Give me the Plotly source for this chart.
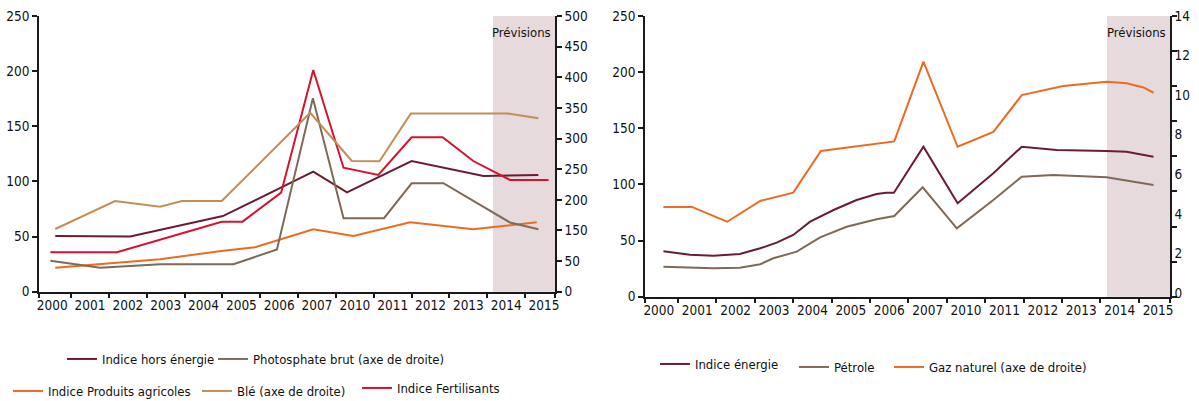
import plotly.graph_objects as go

# ---------------- data ----------------
years = ["2000", "2001", "2002", "2003", "2004", "2005", "2006", "2007",
         "2010", "2011", "2012", "2013", "2014", "2015"]

# Left chart (x in category units: 0 = "2000", 13 = "2015")
x_hors_energie = [0.08, 2.06, 4.51, 6.90, 7.79, 9.50, 11.40, 12.85]
v_hors_energie = [50.5, 50.0, 68.6, 108.8, 90.0, 118.5, 105.0, 105.8]

x_phosphate = [-0.05, 1.27, 2.85, 4.79, 5.94, 6.89, 7.70, 8.77, 9.50, 10.34, 12.10, 12.85]
v_phosphate = [100.6, 89.0, 94.7, 94.7, 119.0, 365.6, 169.8, 170.0, 226.9, 227.0, 163.0, 151.8]

x_agricoles = [0.08, 2.85, 4.52, 5.36, 6.90, 7.96, 9.46, 11.13, 12.81]
v_agricoles = [21.8, 29.4, 37.2, 40.3, 56.6, 50.5, 62.9, 56.6, 62.9]

x_ble = [0.08, 1.66, 2.85, 3.43, 4.48, 6.82, 7.92, 8.65, 9.48, 12.02, 12.85]
v_ble = [152.3, 198.0, 188.7, 198.0, 198.0, 342.0, 263.3, 263.0, 341.0, 341.0, 333.0]

x_fertilisants = [-0.05, 1.71, 4.48, 5.03, 6.05, 6.90, 7.70, 8.62, 9.50, 10.32, 11.13, 12.10, 13.12]
v_fertilisants = [35.7, 35.7, 63.5, 63.5, 89.8, 201.0, 112.4, 105.8, 140.0, 140.0, 118.5, 101.3, 101.3]

# Right chart
x_gaz = [0.12, 0.86, 1.78, 2.65, 3.50, 4.22, 6.13, 6.89, 7.78, 8.71, 9.45, 10.53, 11.66, 12.18, 12.62, 12.88]
v_gaz = [4.35, 4.35, 3.60, 4.66, 5.07, 7.18, 7.66, 11.69, 7.39, 8.14, 10.0, 10.46, 10.68, 10.60, 10.39, 10.12]

x_energie = [0.12, 0.81, 1.42, 2.11, 2.64, 3.07, 3.50, 3.94, 4.55, 5.15, 5.67, 5.92, 6.12,
             6.89, 7.78, 8.71, 9.45, 10.36, 11.66, 12.18, 12.88]
v_energie = [40.4, 37.4, 36.5, 38.0, 43.1, 48.1, 55.0, 66.8, 77.2, 86.1, 91.5, 92.6, 92.6,
             133.6, 83.2, 109.9, 133.6, 130.6, 129.8, 129.1, 124.7]

x_petrole = [0.12, 1.42, 2.11, 2.64, 2.98, 3.59, 4.20, 4.89, 5.67, 6.13, 6.87, 7.76, 8.71,
             9.45, 10.27, 11.66, 12.88]
v_petrole = [26.7, 25.3, 25.8, 28.9, 34.2, 40.1, 52.9, 62.3, 68.9, 71.9, 97.4, 60.9, 86.1,
             106.9, 108.4, 106.3, 99.5]

forecast_start_left = 11.65
forecast_start_right = 11.67

left_y_ticks = [0, 50, 100, 150, 200, 250]
left_y2_tickvals = [50, 100, 150, 200, 250, 300, 350, 400, 450, 500]
left_y2_ticktext = ["0", "50", "150", "200", "250", "300", "350", "400", "450", "500"]
right_y_ticks = [0, 50, 100, 150, 200, 250]
right_y2_ticks = [0, 2, 4, 6, 8, 10, 12, 14]

# ---------------- style ----------------
FONT = "Liberation Sans Narrow, DejaVu Sans Condensed, Arial Narrow, sans-serif"
MAROON = "#6B1C33"
GREYBROWN = "#7E6A57"
ORANGE = "#EE6A22"
TAN = "#C38D55"
RED = "#D7122E"
SHADE = "#E6DADD"
AXIS = "#1A1A1A"
TXT = "#111111"
W, H = 1199, 401
TICK_SIZE = 13.5
LEG_SIZE = 13

fig = go.Figure()

def add(x, y, name, color, xa, ya, legend):
    fig.add_trace(go.Scatter(x=x, y=y, name=name, mode="lines",
                             line=dict(color=color, width=2),
                             xaxis=xa, yaxis=ya, legend=legend, showlegend=True))

add(x_hors_energie, v_hors_energie, "Indice hors énergie", MAROON, "x", "y", "legend")
add(x_phosphate, v_phosphate, "Photosphate brut (axe de droite)", GREYBROWN, "x", "y2", "legend2")
add(x_agricoles, v_agricoles, "Indice Produits agricoles", ORANGE, "x", "y", "legend3")
add(x_ble, v_ble, "Blé (axe de droite)", TAN, "x", "y2", "legend4")
add(x_fertilisants, v_fertilisants, "Indice Fertilisants", RED, "x", "y", "legend5")

add(x_energie, v_energie, "Indice énergie", MAROON, "x2", "y3", "legend6")
add(x_petrole, v_petrole, "Pétrole", GREYBROWN, "x2", "y3", "legend7")
add(x_gaz, v_gaz, "Gaz naturel (axe de droite)", ORANGE, "x2", "y4", "legend8")

# domains given in pixels
def px_x(a, b):
    return [a / W, b / W]

def px_y(top, bottom):
    return [(H - bottom) / H, (H - top) / H]

xr = [-0.35, 13.29]
xr2 = [-0.36, 13.31]
n = len(years)
bounds_l = [xr[0]] + [i + 0.5 for i in range(n - 1)] + [xr[1]]
bounds_r = [xr2[0]] + [i + 0.5 for i in range(n - 1)] + [xr2[1]]

xcommon = dict(tickmode="array", tickvals=list(range(n)), ticktext=years,
               ticks="", showgrid=False, zeroline=False, showline=True,
               linecolor=AXIS, linewidth=1.5, automargin=False,
               ticklabeloverflow="allow",
               tickfont=dict(family=FONT, size=TICK_SIZE, color=TXT))

ycommon = dict(showgrid=False, zeroline=False, showline=True, linecolor=AXIS,
               linewidth=1.5, ticks="outside", ticklen=5, tickwidth=1.5,
               tickcolor=AXIS, automargin=False, ticklabeloverflow="allow",
               tickfont=dict(family=FONT, size=TICK_SIZE, color=TXT))

ry2_range = [-0.19, 14]
ry2_minor = [ry2_range[0] + k * (ry2_range[1] - ry2_range[0]) / 8 for k in range(9)]

fig.update_layout(
    width=W, height=H, margin=dict(l=0, r=0, t=0, b=0, autoexpand=False),
    paper_bgcolor="white", plot_bgcolor="rgba(0,0,0,0)",
    font=dict(family=FONT, size=TICK_SIZE, color=TXT),
    xaxis=dict(domain=px_x(39, 555), range=xr, anchor="y",
               minor=dict(tickmode="array", tickvals=bounds_l, ticks="outside",
                          ticklen=5, tickwidth=1.5, tickcolor=AXIS),
               **xcommon),
    yaxis=dict(domain=px_y(16, 291.7), range=[0, 250], tickvals=left_y_ticks,
               anchor="x", **ycommon),
    yaxis2=dict(domain=px_y(16, 291.7), range=[50, 500], tickmode="array",
                tickvals=left_y2_tickvals, ticktext=left_y2_ticktext,
                overlaying="y", side="right", anchor="x", **ycommon),
    xaxis2=dict(domain=px_x(645, 1170), range=xr2, anchor="y3",
                minor=dict(tickmode="array", tickvals=bounds_r, ticks="outside",
                           ticklen=5, tickwidth=1.5, tickcolor=AXIS),
                **xcommon),
    yaxis3=dict(domain=px_y(16, 296.7), range=[0, 250], tickvals=right_y_ticks,
                anchor="x2", **ycommon),
    yaxis4=dict(domain=px_y(16, 296.7), range=ry2_range, tickmode="array",
                tickvals=right_y2_ticks, overlaying="y3", side="right", anchor="x2",
                showgrid=False, zeroline=False, showline=True, linecolor=AXIS,
                linewidth=1.5, ticks="", automargin=False, ticklabeloverflow="allow",
                tickfont=dict(family=FONT, size=TICK_SIZE, color=TXT),
                minor=dict(tickmode="array", tickvals=ry2_minor, ticks="outside",
                           ticklen=5, tickwidth=1.5, tickcolor=AXIS)),
)

# forecast shading
fig.add_shape(type="rect", xref="x", yref="y domain", x0=forecast_start_left, x1=xr[1],
              y0=0, y1=1, fillcolor=SHADE, line=dict(width=0), layer="below")
fig.add_shape(type="rect", xref="x2", yref="y3 domain", x0=forecast_start_right, x1=xr2[1],
              y0=0, y1=1, fillcolor=SHADE, line=dict(width=0), layer="below")
fig.add_annotation(text="Prévisions", xref="x", yref="y domain", x=xr[1], y=0.94,
                   xanchor="right", yanchor="middle", xshift=-2, showarrow=False,
                   font=dict(family=FONT, size=13, color=TXT))
fig.add_annotation(text="Prévisions", xref="x2", yref="y3 domain", x=xr2[1], y=0.94,
                   xanchor="right", yanchor="middle", xshift=-2, showarrow=False,
                   font=dict(family=FONT, size=13, color=TXT))

# legends (one per entry); positions = start of text, centre line, in pixels
legend_pos = {
    "legend": (102, 359), "legend2": (253, 359),
    "legend3": (48, 391), "legend4": (237, 391), "legend5": (397, 388),
    "legend6": (695, 364), "legend7": (834, 367), "legend8": (929, 367),
}
for key, (tx, ty) in legend_pos.items():
    fig.update_layout({key: dict(x=(tx - 40) / W, y=(H - ty) / H,
                                 xanchor="left", yanchor="middle", orientation="h",
                                 bgcolor="rgba(0,0,0,0)", borderwidth=0,
                                 font=dict(family=FONT, size=LEG_SIZE, color=TXT),
                                 itemclick=False, itemdoubleclick=False)})

# remove the page's default body margin so the figure sits at the window origin
fig.write_html("out.html", config={"displayModeBar": False},
               post_script="document.body.style.margin='0';")
